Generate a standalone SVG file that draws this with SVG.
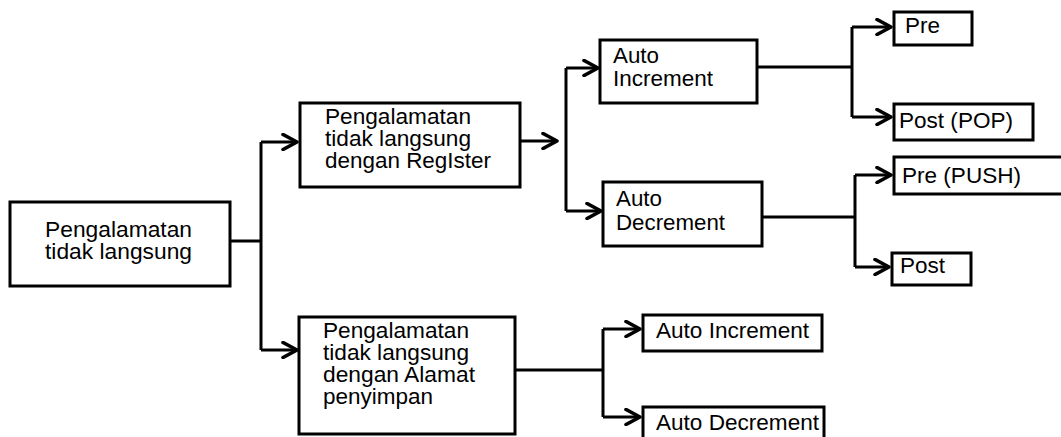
<svg xmlns="http://www.w3.org/2000/svg" width="1061" height="437" viewBox="0 0 1061 437">
<style>
.box{fill:#fff;stroke:#000;stroke-width:3}
.t{font-family:"Liberation Sans",Arial,sans-serif;font-size:21.5px;fill:#000}
.c{fill:none;stroke:#000;stroke-width:3}
</style>
<defs>
<marker id="ah" markerUnits="userSpaceOnUse" viewBox="0 0 18 18" refX="16" refY="9" markerWidth="18" markerHeight="18" orient="auto">
<path d="M2,1.5 L16,9 L2,16.5" fill="none" stroke="#000" stroke-width="3.6" stroke-linejoin="round" stroke-linecap="round"/>
</marker>
</defs>
<rect width="1061" height="437" fill="#fff"/>
<g id="connectors">
<path class="c" d="M230,241 H261"/>
<path class="c" d="M261,142 V350"/>
<path class="c" d="M261,142 H297" marker-end="url(#ah)"/>
<path class="c" d="M261,350 H297" marker-end="url(#ah)"/>
<path class="c" d="M520,141 H557" marker-end="url(#ah)"/>
<path class="c" d="M566,68 V211"/>
<path class="c" d="M566,68 H598" marker-end="url(#ah)"/>
<path class="c" d="M566,211 H601" marker-end="url(#ah)"/>
<path class="c" d="M757,67 H852"/>
<path class="c" d="M852,27 V117"/>
<path class="c" d="M852,27 H891" marker-end="url(#ah)"/>
<path class="c" d="M852,117 H891" marker-end="url(#ah)"/>
<path class="c" d="M762,217 H855"/>
<path class="c" d="M855,175 V267"/>
<path class="c" d="M855,175 H891" marker-end="url(#ah)"/>
<path class="c" d="M855,267 H889" marker-end="url(#ah)"/>
<path class="c" d="M515,370 H603"/>
<path class="c" d="M603,329 V417"/>
<path class="c" d="M603,329 H640" marker-end="url(#ah)"/>
<path class="c" d="M603,417 H640" marker-end="url(#ah)"/>
</g>
<g id="root">
<rect class="box" x="10" y="202" width="220" height="84"/>
<text class="t" x="45" y="237" textLength="147" lengthAdjust="spacingAndGlyphs">Pengalamatan</text>
<text class="t" x="45" y="259" textLength="147" lengthAdjust="spacingAndGlyphs">tidak langsung</text>
</g>
<g id="register">
<rect class="box" x="300" y="103" width="220" height="84"/>
<text class="t" x="325" y="124" textLength="146" lengthAdjust="spacingAndGlyphs">Pengalamatan</text>
<text class="t" x="325" y="146" textLength="146" lengthAdjust="spacingAndGlyphs">tidak langsung</text>
<text class="t" x="325" y="168" textLength="166" lengthAdjust="spacingAndGlyphs">dengan RegIster</text>
</g>
<g id="alamat">
<rect class="box" x="299" y="317" width="216" height="117"/>
<text class="t" x="323" y="338" textLength="146" lengthAdjust="spacingAndGlyphs">Pengalamatan</text>
<text class="t" x="323" y="360" textLength="146" lengthAdjust="spacingAndGlyphs">tidak langsung</text>
<text class="t" x="323" y="382" textLength="152" lengthAdjust="spacingAndGlyphs">dengan Alamat</text>
<text class="t" x="323" y="404" textLength="110" lengthAdjust="spacingAndGlyphs">penyimpan</text>
</g>
<g id="autoinc">
<rect class="box" x="600" y="40" width="157" height="63"/>
<text class="t" x="613" y="63" textLength="46" lengthAdjust="spacingAndGlyphs">Auto</text>
<text class="t" x="613" y="86" textLength="100" lengthAdjust="spacingAndGlyphs">Increment</text>
</g>
<g id="autodec">
<rect class="box" x="603" y="182" width="159" height="64"/>
<text class="t" x="616" y="206" textLength="46" lengthAdjust="spacingAndGlyphs">Auto</text>
<text class="t" x="616" y="230" textLength="109" lengthAdjust="spacingAndGlyphs">Decrement</text>
</g>
<g id="pre">
<rect class="box" x="894" y="12" width="78" height="33"/>
<text class="t" x="905" y="33" textLength="35" lengthAdjust="spacingAndGlyphs">Pre</text>
</g>
<g id="postpop">
<rect class="box" x="894" y="104" width="139" height="36"/>
<text class="t" x="899" y="128" textLength="114" lengthAdjust="spacingAndGlyphs">Post (POP)</text>
</g>
<g id="prepush">
<rect class="box" x="894" y="157" width="180" height="37"/>
<text class="t" x="902" y="183" textLength="119" lengthAdjust="spacingAndGlyphs">Pre (PUSH)</text>
</g>
<g id="post">
<rect class="box" x="892" y="253" width="79" height="32"/>
<text class="t" x="900" y="273" textLength="45" lengthAdjust="spacingAndGlyphs">Post</text>
</g>
<g id="alamatinc">
<rect class="box" x="643" y="315" width="179" height="36"/>
<text class="t" x="656" y="338" textLength="153" lengthAdjust="spacingAndGlyphs">Auto Increment</text>
</g>
<g id="alamatdec">
<rect class="box" x="643" y="407" width="181" height="40"/>
<text class="t" x="656" y="430" textLength="163" lengthAdjust="spacingAndGlyphs">Auto Decrement</text>
</g>
</svg>
